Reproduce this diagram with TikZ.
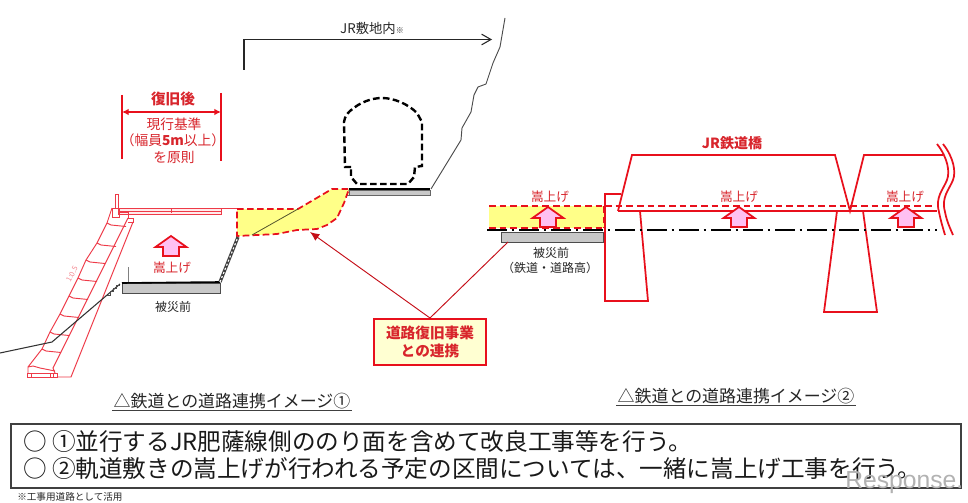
\documentclass[tikz,border=0pt]{standalone}
\usepackage{fontspec}
\setmainfont{Noto Sans CJK JP}
\newfontfamily\wmfont{Liberation Sans}
\usetikzlibrary{arrows.meta}
\definecolor{rd}{HTML}{E8101C}
\definecolor{txtrd}{HTML}{D8252C}
\definecolor{slope}{HTML}{EE3A48}
\definecolor{pinkf}{HTML}{FFC0F2}
\definecolor{yel}{HTML}{FFFF88}
\definecolor{boxy}{HTML}{FFFFD2}
\definecolor{slab}{HTML}{C8C8C8}
\tikzset{
  lbl/.style={inner sep=0pt,font=\fontsize{10.3}{12}\selectfont},
  redlbl/.style={lbl,text=txtrd},
  boldred/.style={inner sep=0pt,text=txtrd,font=\fontsize{11}{13}\bfseries\selectfont},
  raiselbl/.style={redlbl,font=\fontsize{9.5}{11}\selectfont},
  blacklbl/.style={lbl,text=black!85,font=\fontsize{9}{11}\selectfont},
  caption/.style={inner sep=1pt,text=black!85,font=\fontsize{12.7}{14}\selectfont},
  bodytxt/.style={inner sep=0pt,anchor=west,text=black!90,font=\fontsize{17.7}{20}\selectfont},
  redline/.style={draw=rd,line width=1.3pt},
  thin red/.style={draw=slope,line width=.7pt},
  dashred/.style={draw=rd,line width=1.2pt,dash pattern=on 5pt off 3pt},
  dashdot/.style={draw=black,line width=1.5pt,dash pattern=on 15pt off 3.5pt on 2pt off 3.5pt},
  raise arrow/.pic={
    \draw[draw=rd,fill=pinkf,line width=1.3pt,line join=miter]
      (0,0)--(15.5,11)--(8,11)--(8,20)--(-8,20)--(-8,11)--(-15.5,11)--cycle;
  }
}
\begin{document}
\begin{tikzpicture}[x=0.75pt,y=-0.75pt]
\useasboundingbox (0,0) rectangle (968,503);
\fill[white] (0,0) rectangle (968,503);

% --- left figure: width dimension
\coordinate (wl1) at (122,95); \coordinate (wl2) at (122,159);
\coordinate (wr1) at (221,93); \coordinate (wr2) at (221,161);
\coordinate (wa) at (122,112); \coordinate (wb) at (221,112);
\draw[draw=rd,line width=1.5pt] (wl1)--(wl2) (wr1)--(wr2);
\draw[draw=rd,line width=1.1pt,{Latex[length=5pt,width=5pt]}-{Latex[length=5pt,width=5pt]}] (wa)--(wb);
\node[boldred] (after) at (173,99) {復旧後};
\node[redlbl] (w1) at (174,124) {現行基準};
\node[redlbl] (w2) at (173,140) {（幅員\textbf{5m}以上）};
\node[redlbl] (w3) at (174,157) {を原則};

% --- JR boundary
\coordinate (jr0) at (244,70); \coordinate (jr1) at (244,39.5); \coordinate (jr2) at (492,39.5);
\draw[draw=black!85,line width=.8pt,-{Straight Barb[length=7pt,width=8pt]}] (jr0)--(jr1)--(jr2);
\node[inner sep=0pt,text=black!85,font=\fontsize{10}{11}\selectfont] (jrtxt) at (372,28) {JR敷地内{\fontsize{6}{7}\selectfont ※}};

% --- cliff
\draw[draw=black!70,line width=.7pt] (505,18)--(500,47)--(493,63)--(486,84)--(478,87)--(474,95)--(471,112)--(462,128)--(461,140)--(450,158)--(431,189);

% --- tunnel outline
\draw[draw=black,line width=1.8pt,dash pattern=on 5pt off 2.5pt]
  (351,167)--(345,167)--(344,122) .. controls (345,116) and (347,114) .. (350,111)
  .. controls (360,102) and (372,98) .. (382,98)
  .. controls (394,98) and (408,104) .. (417,113) -- (422,122)--(422,166)--(415,167)--(414,177)--(408,184)--(357,184)--(351,177)--(351,167);

% --- track slab on the bench
\fill[yel!70!white] (333,190) rectangle (349,195);
\draw[draw=black!60,fill=slab,line width=.5pt] (349,190) rectangle (430,195);
\draw[draw=black!60,line width=.5pt] (333,190) rectangle (349,195);
\draw[draw=black,line width=1.4pt] (349,189)--(430,189);

% --- yellow fill section
\draw[draw=rd,fill=yel,line width=1.3pt,dash pattern=on 5pt off 2.5pt]
  (237,209)--(298,209)--(332,189)--(349,189)--(344,203)--(337,218)--(327,225)--(317,229)--(297,230)--(277,234)--(237,236)--cycle;
\draw[draw=black!45!yel!60!black,line width=.6pt] (252,235)--(298,209);

% --- road surface and retaining wall
\draw[thin red] (118,208)--(237,208);
\draw[thin red,fill=red!8] (118,208) rectangle (221,214);
\draw[thin red] (118,211)--(221,211) (171,208)--(171,213);
\draw[thin red] (115,194) rectangle (118,208);
\draw[thin red] (112,208) rectangle (119,217);
\draw[thin red] (120,212)--(128,212)--(128,218)--(133,218)--(133,222)--(128,222);
\draw[thin red] (112,208)--(107,223)--(97,243)--(86,260)--(78,278)--(69,296)--(60,314)--(50,332)--(42,349)--(28,367)--(28,373);
\draw[thin red] (128,218)--(53,368)--(55,373);
\draw[thin red] (133,222)--(71,377)--(57,377);
\foreach \px/\py in {107/223,97/243,86/260,78/278,69/296,60/314,50/332,42/349}
  \draw[thin red] (\px,\py)--(\px+4,\py+2)--(\px+19,\py+3.5);
\draw[thin red] (28,367)--(33,366)--(40,368)--(55,371);
\draw[thin red] (27,373) rectangle (57,377);
\draw[thin red] (31,373)--(31,377) (50,373)--(50,377) (53,373)--(53,377);
\node[inner sep=0pt,rotate=62,text=slope!60!white,font=\fontsize{5.5}{6}\selectfont] (ratio) at (72,274) {1:0.5};

% --- pre-disaster ground
\draw[draw=black!80,line width=.8pt] (0,353)--(52,342)--(120,284);
\draw[draw=black!70,line width=.5pt] (107,295)--(110,295)--(110,291)--(113,291)--(113,288)--(116,288)--(116,285)--(120,285);
\draw[draw=gray,line width=.7pt] (128,267)--(128,282);
\draw[draw=black!70,fill=slab,line width=.6pt] (122,283) rectangle (220,293);
\draw[draw=black,line width=1.2pt] (122,283)--(220,282);
\draw[draw=black!75,line width=2.4pt] (220,282)--(238,237);
\draw[draw=white,line width=.9pt,dash pattern=on 1.5pt off 1.8pt] (220,282)--(238,237);

\pic at (171,236) {raise arrow};
\node[raiselbl] (lraise) at (172,268) {嵩上げ};
\node[blacklbl] (lbefore) at (173,307) {被災前};

% --- right figure
\fill[yel] (489,206) rectangle (604,228);
\draw[dashred] (489,206)--(604,206);
\draw[dashred] (489,228)--(604,228);
\draw[dashred] (604,206)--(604,228);
\draw[draw=black!70,fill=slab,line width=.6pt] (501,232) rectangle (603,242);

% abutment, decks, pier
\draw[redline,line join=miter] (621,194)--(605,194)--(605,301)--(648,301)--(640,211);
\draw[redline,line join=miter] (618,211)--(632,155)--(835,155)--(850,211)--(864,155)--(943,155);
\draw[redline] (618,211)--(937,211);
\draw[redline,line join=miter] (837,211)--(824,312)--(877,312)--(863,211);
\draw[dashred] (605,206)--(935,206);
\draw[dashdot] (487,229.5)--(937,229.5);
\draw[redline] (937,144) .. controls (948,158) and (950,172) .. (947,180) .. controls (943,190) and (935,197) .. (939,212) .. controls (941,222) and (943,228) .. (945,235);
\draw[redline] (943,144) .. controls (954,158) and (956,172) .. (953,180) .. controls (949,190) and (941,197) .. (945,212) .. controls (947,222) and (950,228) .. (953,235);

\pic at (548,207) {raise arrow};
\pic at (739,207) {raise arrow};
\pic at (906,207) {raise arrow};
\node[raiselbl] (r1) at (550,197) {嵩上げ};
\node[raiselbl] (r2) at (739,197) {嵩上げ};
\node[raiselbl] (r3) at (905,197) {嵩上げ};
\node[boldred,font=\fontsize{10.5}{12}\bfseries\selectfont] (bridge) at (732,143) {JR鉄道橋};
\node[blacklbl] (rb1) at (551,253) {被災前};
\node[blacklbl] (rb2) at (550,268) {（鉄道・道路高）};

% --- link box
\node[draw=rd,fill=boxy,line width=1.5pt,minimum width=84pt,minimum height=34.5pt,inner sep=0pt,align=center,text=txtrd,font=\fontsize{11}{13.5}\bfseries\selectfont] (link) at (430,342) {道路復旧事業\\との連携};
\coordinate (lt1) at (310,232);
\coordinate (lt2) at (508,242);
\draw[draw=rd!85!black,line width=.7pt,-{Latex[length=7pt,width=6pt]}] (link.north)--(lt1);
\draw[draw=rd!85!black,line width=.7pt] (link.north)--(lt2);

% --- captions
\node[caption,anchor=center] (c1) at (232,401) {△鉄道との道路連携イメージ①};
\draw[draw=black!75,line width=.8pt] (c1.south west)--(c1.south east);
\node[caption,anchor=center] (c2) at (736,396) {△鉄道との道路連携イメージ②};
\draw[draw=black!75,line width=.8pt] (c2.south west)--(c2.south east);

% --- text panel
\node[draw=black!75,line width=.9pt,minimum width=712.5pt,minimum height=48pt,inner sep=0pt] (panel) at (486,456) {};
\node[bodytxt] (t1) at (23,442) {○ ①並行するJR肥薩線側ののり面を含めて改良工事等を行う。};
\node[bodytxt] (t2) at (23,469) {○ ②軌道敷きの嵩上げが行われる予定の区間については、一緒に嵩上げ工事を行う。};
\node[inner sep=0pt,anchor=west,text=black!85,font=\fontsize{7.2}{8}\selectfont] (foot) at (17,497) {※工事用道路として活用};
\node[inner sep=0pt,anchor=west,text=black!30,font=\wmfont\fontsize{18.5}{20}\selectfont] (wm) at (845,483) {Response.};
\end{tikzpicture}
\end{document}
